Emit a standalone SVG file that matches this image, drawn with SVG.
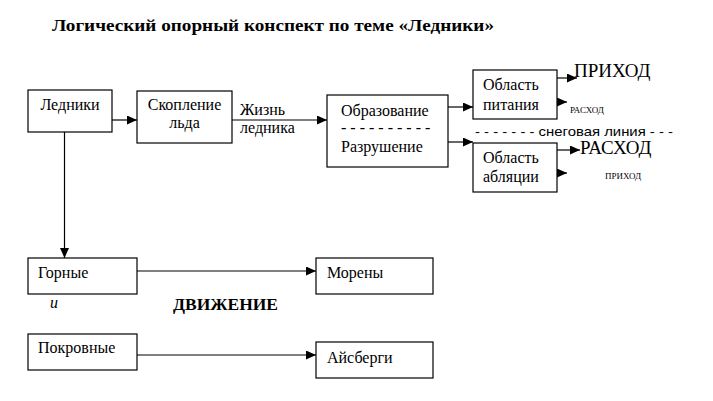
<svg xmlns="http://www.w3.org/2000/svg" width="713" height="401" viewBox="0 0 713 401">
<defs>
<marker id="ah" markerWidth="11" markerHeight="9" refX="10" refY="4.5" orient="auto" markerUnits="userSpaceOnUse">
<path d="M0,0 L10,4.5 L0,9 z" fill="#000"/>
</marker>
<style>
.box{fill:#fff;stroke:#000;stroke-width:1.2}
.t{font-family:"Liberation Serif","DejaVu Serif","Noto Serif",Times,serif;font-size:16px;fill:#000}
.c{stroke:#000;stroke-width:1.2;fill:none;marker-end:url(#ah)}
.big{font-family:"Liberation Serif","DejaVu Serif","Noto Serif",Times,serif;font-size:19px;fill:#000}
.sm{font-family:"Liberation Serif","DejaVu Serif","Noto Serif",Times,serif;font-size:9px;fill:#000}
.bold{font-family:"Liberation Serif","DejaVu Serif","Noto Serif",Times,serif;font-size:16.5px;font-weight:bold;fill:#000}
.sans{font-family:"Liberation Sans",Arial,sans-serif;font-size:13px;fill:#000}
</style>
</defs>
<rect width="713" height="401" fill="#fff"/>
<text class="bold" x="52" y="31" textLength="442" lengthAdjust="spacingAndGlyphs">Логический опорный конспект по теме «Ледники»</text>

<g id="connectors">
<line class="c" x1="112" y1="120" x2="137" y2="120"/>
<line class="c" x1="232" y1="120" x2="327" y2="120"/>
<line class="c" x1="64.5" y1="127" x2="64.5" y2="258"/>
<line class="c" x1="448" y1="107" x2="473" y2="107"/>
<line class="c" x1="448" y1="142" x2="473" y2="142"/>
<line class="c" x1="557" y1="78" x2="577" y2="78"/>
<line class="c" x1="557" y1="102" x2="567" y2="102"/>
<line class="c" x1="557" y1="150" x2="580" y2="150"/>
<line class="c" x1="557" y1="173" x2="567" y2="173"/>
<line class="c" x1="137" y1="271" x2="316" y2="271"/>
<line class="c" x1="137" y1="355" x2="316" y2="355"/>
</g>

<g id="n-ledniki">
<rect class="box" x="28" y="90" width="84" height="42"/>
<text class="t" x="70" y="110" text-anchor="middle">Ледники</text>
</g>
<g id="n-skoplenie">
<rect class="box" x="137" y="91" width="95" height="52"/>
<text class="t" x="184.5" y="110" text-anchor="middle">Скопление</text>
<text class="t" x="184.5" y="128" text-anchor="middle">льда</text>
</g>
<g id="l-zhizn">
<text class="t" x="240" y="115">Жизнь</text>
<text class="t" x="240" y="133">ледника</text>
</g>
<g id="n-obrazovanie">
<rect class="box" x="327" y="95" width="121" height="72"/>
<text class="t" x="341" y="116">Образование</text>
<text class="t" x="341" y="133">- - - - - - - - - -</text>
<text class="t" x="341" y="152">Разрушение</text>
</g>
<g id="n-pitanie">
<rect class="box" x="473" y="70" width="84" height="49"/>
<text class="t" x="483" y="90">Область</text>
<text class="t" x="483" y="110">питания</text>
</g>
<g id="n-ablyacia">
<rect class="box" x="473" y="143" width="84" height="49"/>
<text class="t" x="483" y="163">Область</text>
<text class="t" x="483" y="182">абляции</text>
</g>
<g id="labels-right">
<text class="big" x="574" y="77">ПРИХОД</text>
<text class="sm" x="570" y="113">РАСХОД</text>
<text class="sans" x="475" y="136" textLength="198" lengthAdjust="spacingAndGlyphs">- - - - - - - снеговая линия - - -</text>
<text class="big" x="580" y="154">РАСХОД</text>
<text class="sm" x="605" y="179">ПРИХОД</text>
</g>
<g id="n-gornye">
<rect class="box" x="28" y="258" width="109" height="36"/>
<text class="t" x="38" y="278">Горные</text>
</g>
<g id="n-moreny">
<rect class="box" x="316" y="258" width="117" height="36"/>
<text class="t" x="327" y="278">Морены</text>
</g>
<text class="t" x="50" y="308" font-style="italic">и</text>
<text class="bold" x="173" y="310" style="font-size:17px" textLength="105" lengthAdjust="spacingAndGlyphs">ДВИЖЕНИЕ</text>
<g id="n-pokrovnye">
<rect class="box" x="28" y="334" width="109" height="36"/>
<text class="t" x="38" y="353">Покровные</text>
</g>
<g id="n-aisbergi">
<rect class="box" x="316" y="342" width="117" height="36"/>
<text class="t" x="327" y="363">Айсберги</text>
</g>
</svg>
